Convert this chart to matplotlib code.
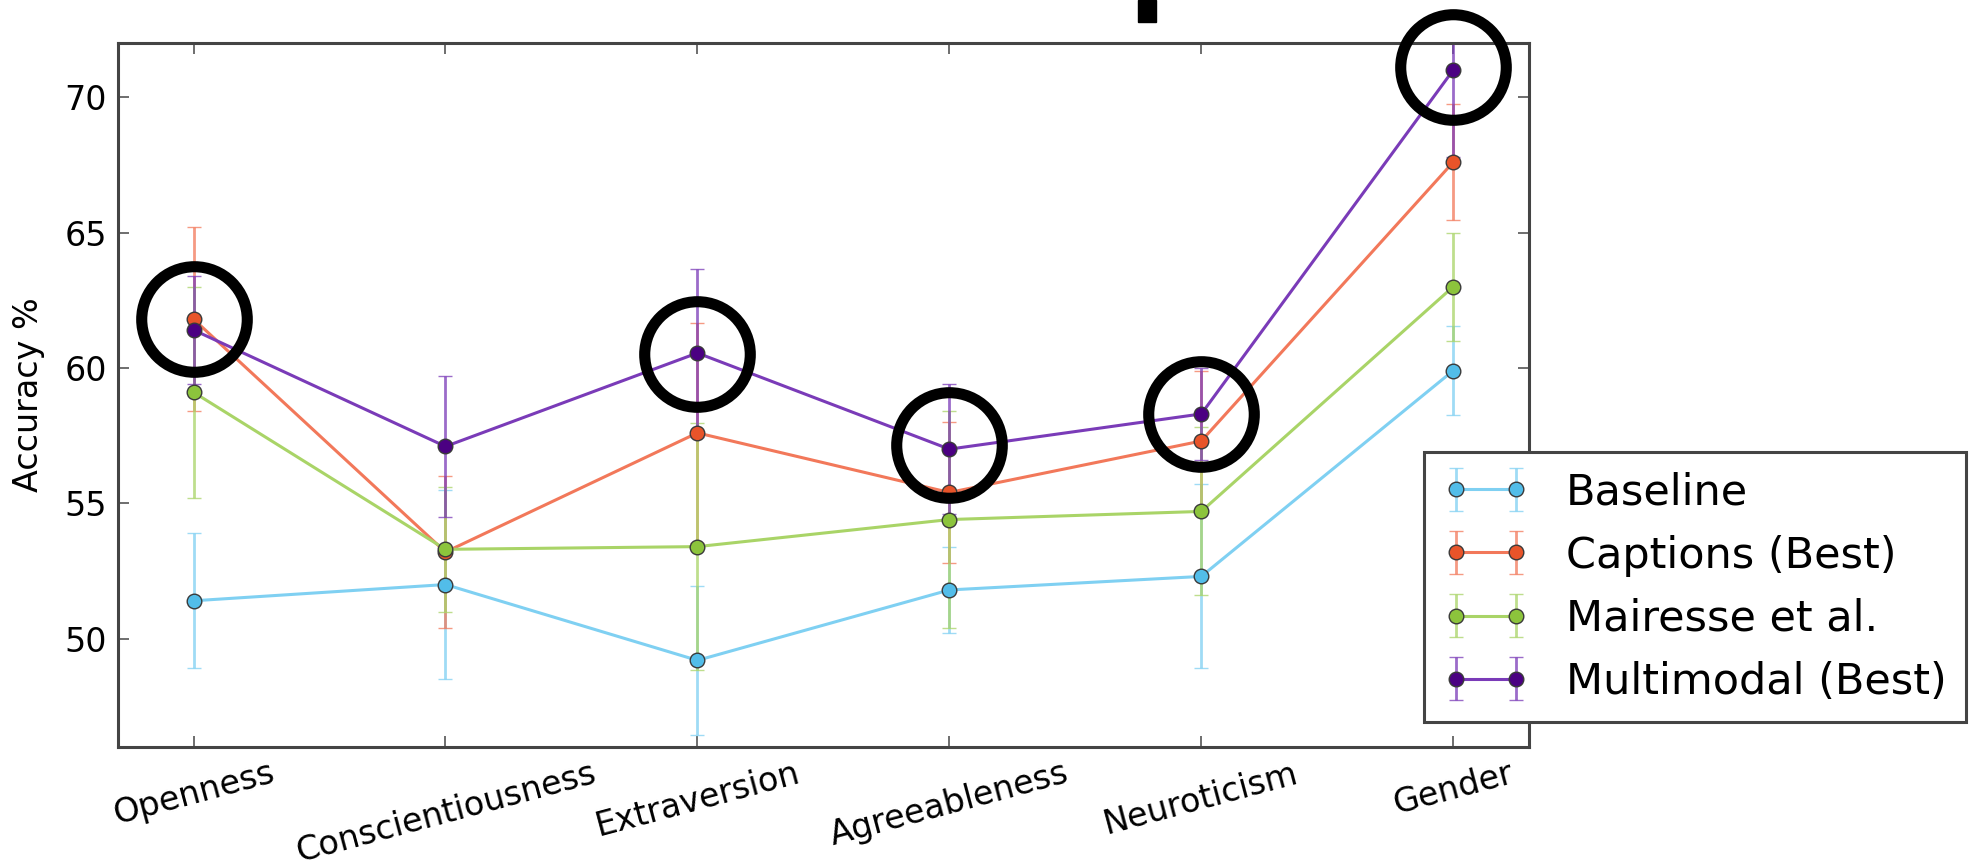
import numpy as np
import matplotlib
matplotlib.use('Agg')
import matplotlib.pyplot as plt
from matplotlib.patches import Rectangle

traits = ['Openness', 'Conscientiousness', 'Extraversion',
          'Agreeableness', 'Neuroticism', 'Gender']

baseline = [51.4, 52.0, 49.2, 51.8, 52.3, 59.9]
baseline_err = [2.5, 3.5, 2.75, 1.6, 3.4, 1.65]
captions = [61.8, 53.2, 57.6, 55.4, 57.3, 67.6]
captions_err = [3.4, 2.8, 4.05, 2.6, 2.6, 2.15]
mairesse = [59.1, 53.3, 53.4, 54.4, 54.7, 63.0]
mairesse_err = [3.9, 2.3, 4.55, 4.0, 3.1, 2.0]
multimodal = [61.4, 57.1, 60.55, 57.0, 58.3, 71.0]
multimodal_err = [2.0, 2.6, 3.1, 2.4, 1.7, 3.2]

labels = ['Baseline', 'Captions (Best)', 'Mairesse et al.', 'Multimodal (Best)']

# circled points drawn on top of the figure
highlight_idx = [0, 2, 3, 4, 5]
highlight_y = [61.8, 60.5, 57.15, 58.3, 71.1]

plt.rcParams['font.family'] = ['DejaVu Sans']

fig = plt.figure(figsize=(19.76, 8.66), dpi=100)
ax = fig.add_axes([0.0597, 0.1374, 0.714, 0.813])

x = np.arange(len(traits))
series = [
    (baseline, baseline_err, '#52bde9', '#7fd0f2'),
    (captions, captions_err, '#e8542a', '#f2785a'),
    (mairesse, mairesse_err, '#8cc43c', '#a9d467'),
    (multimodal, multimodal_err, '#4b0082', '#7a3bb8'),
]

for (vals, errs, mcol, lcol), lab in zip(series, labels):
    cont = ax.errorbar(x, vals, yerr=errs, fmt='-o', color=lcol, mfc=mcol,
                       mec='#3a3a3a', mew=1.0, ms=10.5, lw=2.2, elinewidth=2,
                       capsize=5, capthick=1.5, label=lab)
    for c in cont[1]:
        c.set_alpha(0.75)
    for c in cont[2]:
        c.set_alpha(0.75)

# black annotation rings
ax.plot(x[highlight_idx], highlight_y, 'o', ms=76, mfc='none', mec='black',
        mew=8, clip_on=False, zorder=10)

ax.set_xlim(-0.3, 5.3)
ax.set_ylim(46, 72)
ax.set_yticks([50, 55, 60, 65, 70])
ax.set_xticks(x)
ax.set_xticklabels(traits, rotation=15, ha='center')
ax.set_ylabel('Accuracy %', fontsize=24)
ax.yaxis.set_label_coords(-0.052, 0.5)
ax.tick_params(direction='in', length=8, width=1.2, color='#555555',
               labelsize=24, top=True, right=True)
ax.tick_params(axis='x', pad=7)
ax.tick_params(axis='y', pad=8)
for s in ax.spines.values():
    s.set_linewidth(2.2)
    s.set_color('#444444')

leg = ax.legend(loc='upper right', bbox_to_anchor=(0.995, 0.478),
                bbox_transform=fig.transFigure, fontsize=31, numpoints=2,
                handlelength=2.0, handletextpad=0.85, borderpad=0.45,
                labelspacing=0.49, fancybox=False, framealpha=1,
                edgecolor='#444444', borderaxespad=0)
leg.get_frame().set_linewidth(2.2)
leg.set_zorder(20)

# fragment of a black mark at the top edge
fig.patches.append(Rectangle((1138 / 1976, 1 - 22 / 866), 18 / 1976, 22 / 866,
                             transform=fig.transFigure, color='black'))

fig.savefig('out.png', dpi=100)
